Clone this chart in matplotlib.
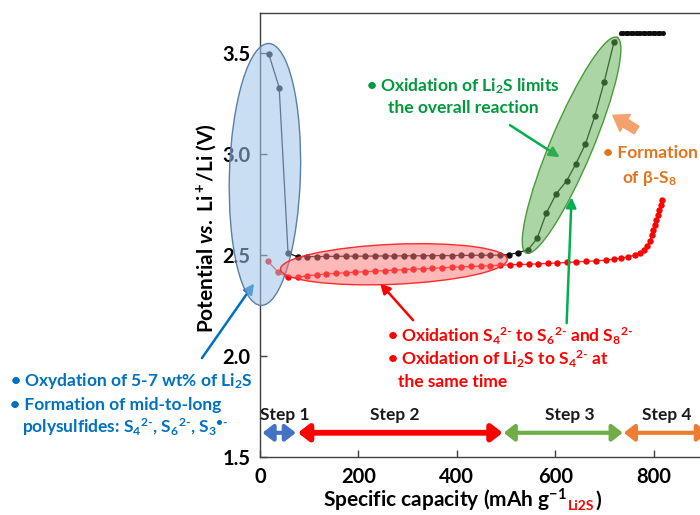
import matplotlib
matplotlib.use("Agg")
import matplotlib.pyplot as plt
from matplotlib.patches import Ellipse, FancyArrowPatch
from matplotlib.transforms import ScaledTranslation

# first charge (black) and second curve (red): capacity in mAh/g Li2S, potential in V
black_cap = [18, 39, 57,
             77, 96, 116, 135, 155, 175, 194, 214, 233, 253, 272,
             292, 311, 331, 350, 370, 390, 409, 429, 448, 468, 487,
             506, 525, 545, 563, 582, 602, 623, 642, 661, 680, 699, 719]
black_v = [3.495, 3.33, 2.51,
           2.492, 2.493, 2.493, 2.494, 2.494, 2.495, 2.495, 2.495, 2.496, 2.496, 2.496,
           2.497, 2.497, 2.497, 2.498, 2.498, 2.498, 2.499, 2.499, 2.500, 2.500, 2.500,
           2.503, 2.513, 2.528, 2.583, 2.710, 2.805, 2.868, 2.954, 3.050, 3.188, 3.356, 3.554]

plateau_cap = [733, 738, 743, 748, 753, 758, 763, 768, 773, 778, 783, 788, 793,
               798, 803, 808, 813, 818]
plateau_v = [3.60] * 18

red_cap = [16, 37, 57,
           77, 96, 116, 135, 155, 175, 194, 214, 233, 253, 272,
           292, 311, 331, 350, 370, 390, 409, 429, 448, 468, 487,
           507, 526, 546, 565, 585, 604, 624, 643, 663, 683, 702,
           719, 734, 748, 761, 772, 780, 787, 792, 796, 799, 802, 805, 808, 811, 814, 817]
red_v = [2.47, 2.415, 2.39,
         2.390, 2.398, 2.403, 2.407, 2.410, 2.413, 2.416, 2.418, 2.421, 2.423, 2.426,
         2.428, 2.431, 2.433, 2.435, 2.437, 2.440, 2.442, 2.444, 2.446, 2.448, 2.450,
         2.452, 2.454, 2.455, 2.457, 2.459, 2.461, 2.464, 2.467, 2.469, 2.472, 2.475,
         2.480, 2.485, 2.492, 2.500, 2.510, 2.525, 2.545, 2.570, 2.598, 2.625, 2.650,
         2.675, 2.700, 2.725, 2.750, 2.772]

x_ticks = [0, 200, 400, 600, 800]
y_ticks = [1.5, 2.0, 2.5, 3.0, 3.5]

step_labels = ["Step 1", "Step 2", "Step 3", "Step 4"]
step_start = [5, 77, 495, 739]
step_end = [73, 493, 737, 910]
step_colors = ["#4472C4", "#FF0000", "#70AD47", "#ED7D31"]

plt.rcParams["font.family"] = ["Lato", "DejaVu Sans"]
plt.rcParams["font.weight"] = "bold"
plt.rcParams["mathtext.fontset"] = "custom"
plt.rcParams["mathtext.rm"] = "Lato:bold"
plt.rcParams["mathtext.bf"] = "Lato:bold"
plt.rcParams["mathtext.it"] = "Lato:italic:bold"
plt.rcParams["mathtext.default"] = "rm"

W, H = 700, 515
fig = plt.figure(figsize=(W / 100, H / 100), dpi=100)
ax = fig.add_axes([260 / W, 58 / H, 443 / W, 444 / H])
ax.set_xlim(0, 900)
ax.set_ylim(1.5, 3.7)


def fpx(x, y):
    """figure fraction from pixel position measured from the top-left."""
    return x / W, 1 - y / H


# curves
ax.plot(black_cap, black_v, "-", color="#1a1a1a", lw=0.9, zorder=2)
ax.plot(black_cap, black_v, "o", color="#0d0d0d", ms=4.6, mec="none", zorder=3)
ax.plot([black_cap[-1], plateau_cap[0]], [black_v[-1], plateau_v[0]], ":",
        color="#333333", lw=0.8, zorder=2)
ax.plot(plateau_cap, plateau_v, "o", color="#0d0d0d", ms=3.6, mec="none", zorder=3)
ax.plot(red_cap, red_v, "-", color="#ff2020", lw=0.9, zorder=2)
ax.plot(red_cap, red_v, "o", color="#ff0000", ms=4.6, mec="none", zorder=3)


def px_ellipse(cx, cy, w, h, angle, **kw):
    # size in pixels, centre in data units
    tr = fig.dpi_scale_trans + ScaledTranslation(cx, cy, ax.transData)
    return Ellipse((0, 0), w / 100, h / 100, angle=angle, transform=tr, **kw)


ax.add_patch(px_ellipse(10, 2.90, 71, 262, -1.7, fc=(0.62, 0.77, 0.91, 0.55),
                        ec="#5a7fa8", lw=1.0, zorder=4, clip_on=False))
ax.add_patch(px_ellipse(272, 2.455, 227, 40, 2.5, fc=(1.0, 0.45, 0.45, 0.5),
                        ec="#ff2a2a", lw=1.0, zorder=4))
ax.add_patch(px_ellipse(633, 3.045, 234, 42, 67.2, fc=(0.35, 0.68, 0.30, 0.5),
                        ec="#4a9a3a", lw=1.0, zorder=4))

# step arrows
for lab, x0, x1, c in zip(step_labels, step_start, step_end, step_colors):
    lw = 4.2 if c == "#FF0000" else 3.0
    ax.add_patch(FancyArrowPatch((x0, 1.62), (x1, 1.62),
                                 arrowstyle="<|-|>,head_length=0.45,head_width=0.35",
                                 mutation_scale=14, color=c, lw=lw,
                                 shrinkA=0, shrinkB=0, clip_on=False, zorder=5))
for lab, xc in zip(step_labels, [51, 274, 629, 826]):
    ax.text(xc, 1.683, lab, ha="center", va="baseline", fontsize=12.5,
            fontweight="bold", color="#1a1a1a")

# pointer arrows
def pointer(tail, head, color, lw=1.8):
    ax.annotate("", xy=head, xytext=tail, annotation_clip=False,
                arrowprops=dict(arrowstyle="-|>,head_length=0.6,head_width=0.3",
                                color=color, lw=lw, shrinkA=0, shrinkB=0,
                                mutation_scale=10))


pointer((-118, 1.99), (-12, 2.36), "#0070C0")
pointer((311, 2.178), (244, 2.361), "#FF0000")
pointer((508, 3.144), (609, 2.985), "#00B050")
pointer((623, 2.163), (633, 2.787), "#00B050")
ax.annotate("", xy=(717, 3.193), xytext=(765, 3.12), annotation_clip=False,
            arrowprops=dict(arrowstyle="simple,head_length=0.8,head_width=1.1,tail_width=0.5",
                            color="#F4A26C", shrinkA=0, shrinkB=0, mutation_scale=13))

# ion labels: subscript first, then the charge as a separate superscript
S4 = r"S$_4$$^{2\text{-}}$"
S6 = r"S$_6$$^{2\text{-}}$"
S8 = r"S$_8$$^{2\text{-}}$"
S3 = r"S$_3$$^{\text{•-}}$"
fs = 12.5

green = "#009a3a"
fig.text(*fpx(463, 91), "• Oxidation of Li$_2$S limits", ha="center", va="baseline",
         fontsize=fs, color=green)
fig.text(*fpx(463, 113), "the overall reaction", ha="center", va="baseline",
         fontsize=fs, color=green)

orange = "#E3741E"
fig.text(*fpx(650, 158), "• Formation", ha="center", va="baseline", fontsize=fs, color=orange)
fig.text(*fpx(650, 183), "of β-S$_8$", ha="center", va="baseline", fontsize=fs, color=orange)

red = "#FF0000"
fig.text(*fpx(387, 342), f"• Oxidation {S4} to {S6} and {S8}",
         va="baseline", fontsize=fs, color=red)
fig.text(*fpx(387, 365), f"• Oxidation of Li$_2$S to {S4} at",
         va="baseline", fontsize=fs, color=red)
fig.text(*fpx(398, 387), "the same time", va="baseline", fontsize=fs, color=red)

blue = "#0070C0"
fig.text(*fpx(10, 386), "• Oxydation of 5-7 wt% of Li$_2$S", va="baseline",
         fontsize=fs, color=blue)
fig.text(*fpx(10, 410), "• Formation of mid-to-long", va="baseline",
         fontsize=fs, color=blue)
fig.text(*fpx(22, 433), f"polysulfides: {S4}, {S6}, {S3}",
         va="baseline", fontsize=fs, color=blue)

# axes styling
ax.set_xticks(x_ticks)
ax.set_yticks(y_ticks)
ax.set_yticklabels([f"{v:.1f}" for v in y_ticks])
ax.tick_params(direction="in", length=5, width=1, color="#404040",
               labelsize=14.5, pad=7)
for lab in ax.get_xticklabels() + ax.get_yticklabels():
    lab.set_fontweight("bold")
for side in ("left", "bottom", "top", "right"):
    ax.spines[side].set_color("#404040")
    ax.spines[side].set_linewidth(1.0)

fig.text(*fpx(206, 228), r"Potential $\it{vs.}$ Li$^+$/Li (V)", rotation=90,
         ha="center", va="center", fontsize=15, fontweight="bold")

xl = fig.text(*fpx(323, 507), "Specific capacity (mAh g$^{-1}$", va="baseline",
              fontsize=15, fontweight="bold")
sub = fig.text(0, 0, "Li2S", fontsize=10, fontweight="bold", color=red, va="baseline")
fig.canvas.draw()
bb = xl.get_window_extent()
sub.set_position(((bb.x1 + 1) / W, (H - 510) / H))
fig.canvas.draw()
bb2 = sub.get_window_extent()
fig.text((bb2.x1 + 1) / W, (H - 507) / H, ")", va="baseline", fontsize=15,
         fontweight="bold")

fig.savefig("out.png", dpi=100)
